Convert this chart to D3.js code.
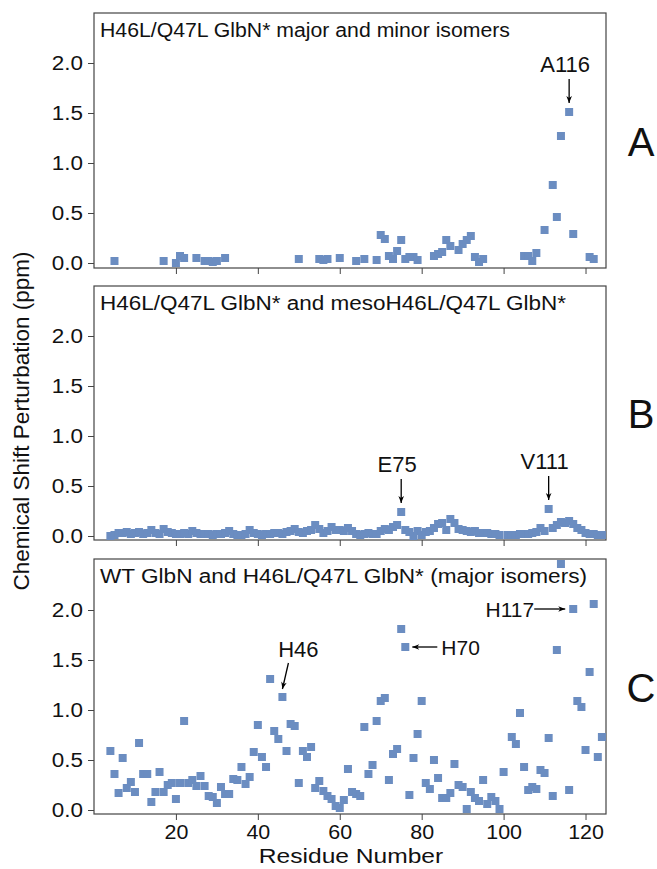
<!DOCTYPE html>
<html><head><meta charset="utf-8">
<script src="https://cdn.jsdelivr.net/npm/d3@7/dist/d3.min.js"></script>
<style>body{margin:0;background:#fff}svg{display:block;font-family:Arial,"Liberation Sans",sans-serif}</style>
</head><body><svg id="c" width="657" height="869"></svg>
<script>
// ---- data ----
const residuesA = [5,17,20,21,22,25,27,28,29,30,32,50,55,56,57,60,64,66,69,70,71,72,73,74,75,76,77,78,79,83,84,85,86,87,89,90,91,92,93,94,95,105,106,107,108,110,112,113,114,116,117,121,122];
const valuesA   = [0.02,0.02,0.00,0.07,0.05,0.05,0.02,0.02,0.01,0.02,0.05,0.04,0.04,0.03,0.04,0.05,0.02,0.04,0.03,0.28,0.24,0.07,0.04,0.12,0.23,0.04,0.06,0.06,0.03,0.07,0.09,0.11,0.23,0.17,0.13,0.19,0.23,0.27,0.06,0.01,0.04,0.07,0.07,0.02,0.10,0.33,0.78,0.46,1.27,1.51,0.29,0.06,0.04];

const residuesB = [4,5,6,7,8,9,10,11,12,13,14,15,16,17,18,19,20,21,22,23,24,25,26,27,28,29,30,31,32,33,34,35,36,37,38,39,40,41,42,43,44,45,46,47,48,49,50,51,52,53,54,55,56,57,58,59,60,61,62,63,64,65,66,67,68,69,70,71,72,73,74,75,76,77,78,79,80,81,82,83,84,85,86,87,88,89,90,91,92,93,94,95,96,97,98,99,101,102,103,104,105,106,107,108,109,110,111,112,113,114,115,116,117,118,119,120,121,122,123,124];
const valuesB   = [0.00,0.01,0.03,0.03,0.04,0.02,0.03,0.04,0.02,0.03,0.06,0.03,0.02,0.07,0.04,0.03,0.02,0.02,0.03,0.02,0.05,0.03,0.02,0.02,0.02,0.01,0.02,0.02,0.03,0.05,0.02,0.01,0.01,0.02,0.06,0.03,0.02,0.01,0.02,0.02,0.03,0.03,0.02,0.04,0.05,0.07,0.04,0.03,0.05,0.06,0.11,0.07,0.03,0.05,0.09,0.06,0.06,0.05,0.08,0.05,0.02,0.01,0.02,0.03,0.02,0.02,0.05,0.07,0.06,0.09,0.11,0.24,0.06,0.04,0.00,0.05,0.01,0.04,0.05,0.08,0.12,0.13,0.06,0.17,0.13,0.07,0.06,0.05,0.04,0.05,0.03,0.03,0.03,0.02,0.02,0.01,0.01,0.01,0.01,0.02,0.02,0.02,0.03,0.04,0.08,0.05,0.27,0.08,0.11,0.14,0.13,0.15,0.12,0.08,0.06,0.03,0.02,0.02,0.01,0.01];

const residuesC = [4,5,6,7,8,9,10,11,12,13,14,15,16,17,18,19,20,21,22,23,24,25,26,27,28,29,30,31,32,33,34,35,36,37,38,39,40,41,42,43,44,45,46,47,48,49,50,51,52,53,54,55,56,57,58,59,60,61,62,63,64,65,66,67,68,69,70,71,72,73,74,75,76,77,78,79,80,81,82,83,84,85,86,87,88,89,90,91,92,93,94,95,96,97,98,99,100,102,103,104,105,106,107,108,109,110,111,112,113,114,116,117,118,119,120,121,122,123,124];
const valuesC   = [0.59,0.36,0.17,0.52,0.22,0.28,0.18,0.67,0.36,0.36,0.08,0.18,0.38,0.18,0.25,0.27,0.11,0.27,0.89,0.27,0.30,0.24,0.34,0.24,0.14,0.13,0.07,0.23,0.16,0.16,0.31,0.30,0.43,0.26,0.33,0.58,0.85,0.53,0.43,1.31,0.79,0.71,1.13,0.59,0.86,0.84,0.27,0.59,0.53,0.63,0.22,0.29,0.19,0.14,0.11,0.04,0.02,0.10,0.41,0.18,0.16,0.14,0.83,0.36,0.45,0.89,1.09,1.12,0.30,0.56,0.61,1.81,1.63,0.15,0.52,0.76,1.09,0.27,0.21,0.50,0.32,0.12,0.12,0.17,0.46,0.25,0.23,0.01,0.18,0.12,0.09,0.30,0.06,0.13,0.09,0.01,0.38,0.73,0.66,0.97,0.43,0.20,0.23,0.21,0.40,0.37,0.72,0.14,1.60,2.46,0.20,2.01,1.09,1.03,0.60,1.38,2.06,0.53,0.73];

const xTicks = [20,40,60,80,100,120];
const yTicks = [0.0,0.5,1.0,1.5,2.0];
const panelTitles = ["H46L/Q47L GlbN* major and minor isomers","H46L/Q47L GlbN* and mesoH46L/Q47L GlbN*","WT GlbN and H46L/Q47L GlbN* (major isomers)"];
const panelLetters = ["A","B","C"];
// annotations: residue, value, label, arrow style
const annA = [{r:116,v:1.51,label:"A116",dir:"down"}];
const annB = [{r:75,v:0.24,label:"E75",dir:"down"},{r:111,v:0.27,label:"V111",dir:"down"}];
const annC = [{r:46,v:1.13,label:"H46",dir:"diag"},{r:76,v:1.63,label:"H70",dir:"left"},{r:117,v:2.01,label:"H117",dir:"right"}];

// ---- layout ----
const svg = d3.select("#c");
const FONT = "Arial, Liberation Sans, sans-serif";
const left = 94, right = 606;
const panels = [
  {top:13, bottom:268, zeroY:263, res:residuesA, val:valuesA, ann:annA, tw:410},
  {top:286, bottom:540, zeroY:536, res:residuesB, val:valuesB, ann:annB, tw:466},
  {top:559, bottom:814, zeroY:810, res:residuesC, val:valuesC, ann:annC, tw:487}
];
const x = d3.scaleLinear().domain([0,125]).range([left,right]);
const color = "#6b8dc1";

function stretch(sel, f){
  sel.each(function(){
    const w = this.getComputedTextLength();
    d3.select(this).attr("textLength", w*f).attr("lengthAdjust","spacingAndGlyphs");
  });
}

svg.append("defs").append("marker").attr("id","ah").attr("viewBox","0 0 10 10")
  .attr("refX",10).attr("refY",5).attr("markerWidth",10).attr("markerHeight",7)
  .attr("markerUnits","userSpaceOnUse").attr("orient","auto")
  .append("path").attr("d","M0,1 L10,5 L0,9 L3,5 Z").attr("fill","#000");

panels.forEach((p,i)=>{
  const y = d3.scaleLinear().domain([0,2.5]).range([p.zeroY, p.zeroY-250]);
  const g = svg.append("g");
  // frame
  g.append("rect").attr("x",left).attr("y",p.top).attr("width",right-left).attr("height",p.bottom-p.top)
    .attr("fill","none").attr("stroke","#444").attr("stroke-width",1.2);
  // y axis
  const ya = g.append("g").attr("transform",`translate(${left},0)`)
    .call(d3.axisLeft(y).tickValues(yTicks).tickFormat(d3.format(".1f")).tickSize(6).tickPadding(5));
  ya.select(".domain").remove();
  ya.selectAll("line").attr("stroke","#444");
  ya.selectAll("text").attr("font-size",19.5).attr("fill","#111").attr("font-family",FONT);
  stretch(ya.selectAll("text"), 1.15);
  // x axis
  const xa = g.append("g").attr("transform",`translate(0,${p.bottom})`)
    .call(d3.axisBottom(x).tickValues(xTicks).tickSize(6).tickPadding(5));
  xa.select(".domain").remove();
  xa.selectAll("line").attr("stroke","#444");
  if(i<2) xa.selectAll("text").remove();
  else { xa.selectAll("text").attr("font-size",19.5).attr("fill","#111").attr("font-family",FONT);
         stretch(xa.selectAll("text"), 1.1); }
  // points
  const s = 8;
  g.selectAll("rect.pt").data(p.res.map((r,k)=>({r, v:p.val[k]}))).enter().append("rect")
    .attr("class","pt").attr("x",d=>x(d.r)-s/2).attr("y",d=>y(d.v)-s/2).attr("width",s).attr("height",s)
    .attr("fill",color);
  // title
  g.append("text").attr("x",100).attr("y",p.top+24).attr("font-size",19.5).attr("fill","#111")
    .attr("textLength",p.tw).attr("lengthAdjust","spacingAndGlyphs").text(panelTitles[i]);
  // letter
  g.append("text").attr("x",641).attr("y",(p.top+p.bottom)/2+15).attr("text-anchor","middle")
    .attr("font-size",40).attr("fill","#111").text(panelLetters[i]);
  // annotations
  p.ann.forEach(a=>{
    const px = x(a.r), py = y(a.v);
    if(a.dir==="down"){
      g.append("line").attr("x1",px).attr("y1",py-33).attr("x2",px).attr("y2",py-9)
        .attr("stroke","#000").attr("stroke-width",1.3).attr("marker-end","url(#ah)");
      g.append("text").attr("x",px-4).attr("y",py-40).attr("text-anchor","middle").attr("font-size",22).attr("fill","#111").text(a.label);
    } else if(a.dir==="diag"){
      g.append("line").attr("x1",px+6).attr("y1",py-34).attr("x2",px).attr("y2",py-8)
        .attr("stroke","#000").attr("stroke-width",1.3).attr("marker-end","url(#ah)");
      g.append("text").attr("x",px+16).attr("y",py-40).attr("text-anchor","middle").attr("font-size",22).attr("fill","#111").text(a.label);
    } else if(a.dir==="left"){
      g.append("line").attr("x1",px+32).attr("y1",py).attr("x2",px+7).attr("y2",py)
        .attr("stroke","#000").attr("stroke-width",1.3).attr("marker-end","url(#ah)");
      g.append("text").attr("x",px+36).attr("y",py+8).attr("font-size",21).attr("fill","#111").text(a.label);
    } else {
      g.append("line").attr("x1",px-39).attr("y1",py).attr("x2",px-8).attr("y2",py)
        .attr("stroke","#000").attr("stroke-width",1.3).attr("marker-end","url(#ah)");
      g.append("text").attr("x",px-39).attr("y",py+8).attr("text-anchor","end").attr("font-size",21).attr("fill","#111").text(a.label);
    }
  });
});

// axis titles
const xt = svg.append("text").attr("x",351).attr("y",863).attr("text-anchor","middle").attr("font-size",21).attr("fill","#111").text("Residue Number");
stretch(xt, 1.17);
svg.append("text").attr("transform","translate(29,421) rotate(-90)").attr("text-anchor","middle").attr("font-size",22.5).attr("fill","#111").text("Chemical Shift Perturbation (ppm)");
</script></body></html>
